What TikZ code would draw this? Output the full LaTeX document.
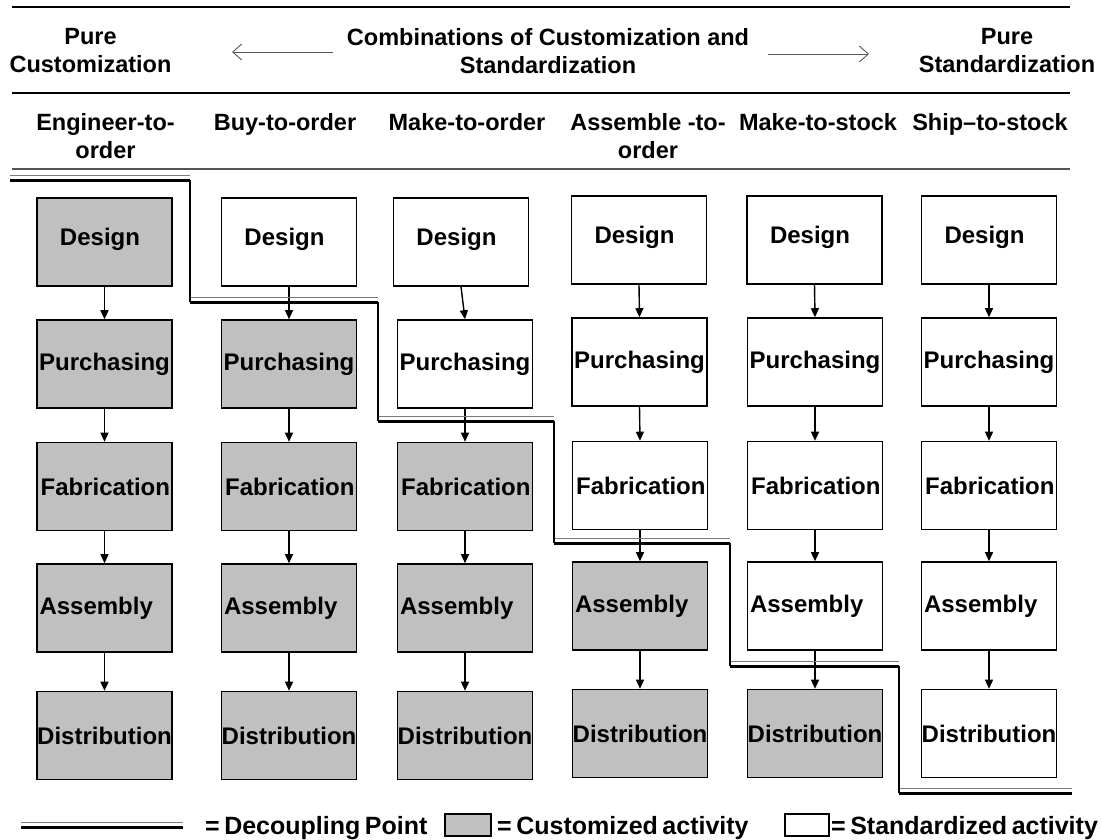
\documentclass[tikz,border=0pt]{standalone}
\usepackage{fontspec}
\setmainfont{Liberation Sans}
\usetikzlibrary{arrows.meta}
\definecolor{cust}{HTML}{C0C0C0}
\definecolor{dpgray}{HTML}{7A7A7A}
\definecolor{rulegray}{HTML}{555555}
\newcommand{\tightsp}{\spaceskip=0.18em\relax}
\begin{document}
\begin{tikzpicture}[x=1pt,y=-1pt,
  every node/.style={font=\fontsize{23.5}{28}\selectfont\bfseries, inner sep=0pt},
  actbox/.style={draw=black, line width=1.6pt, minimum width=135pt, minimum height=88pt,
                 font=\fontsize{24}{28}\selectfont\bfseries},
  custbox/.style={actbox, fill=cust},
  stdbox/.style={actbox, fill=white},
  flow/.style={line width=1.4pt, -{Triangle[length=9pt,width=8pt]}},
  dphigh/.style={draw=dpgray, line width=1.4pt},
  dplow/.style={draw=black, line width=3pt},
  dpvert/.style={draw=black, line width=1.8pt},
  rule/.style={draw=black, line width=1.2pt},
  dirarrow/.style={draw=black!65, line width=0.9pt, -{Straight Barb[length=9pt,width=16pt]}},
  designtext/.style={text height=17pt, text depth=11pt},
  lefttext/.style={text width=130pt, align=left},
  righttext/.style={text width=131pt, align=right},
  legendtext/.style={font=\fontsize{25}{30}\selectfont\bfseries, anchor=base west},
]
\useasboundingbox (0,0) rectangle (1102,839);

% header rules
\draw[rule] (12,7) -- (1070,7);
\draw[rule] (12,93) -- (1070,93);
\draw[rule, draw=rulegray] (12,169) -- (1070,169);

% header texts
\node[align=center, anchor=north] (pc) at (90.5,28) {Pure\\Customization};
\node[align=center, anchor=north] (comb) at (548,28) {Combinations of Customization and\\Standardization};
\node[align=center, anchor=north] (ps) at (1007,28) {Pure\\Standardization};
\coordinate (la1) at (333,52);
\coordinate (la2) at (232,52);
\coordinate (ra1) at (768,54);
\coordinate (ra2) at (869,54);
\draw[dirarrow] (la1) -- (la2);
\draw[dirarrow] (ra1) -- (ra2);

% column headers
\node[align=center, anchor=north] (h1) at (105.5,113) {Engineer-to-\\order};
\node[align=center, anchor=north] (h2) at (285,113) {Buy-to-order};
\node[align=center, anchor=north] (h3) at (467,113) {Make-to-order};
\node[align=center, anchor=north] (h4) at (648,113) {Assemble -to-\\order};
\node[align=center, anchor=north] (h5) at (818,113) {Make-to-stock};
\node[align=center, anchor=north] (h6) at (990,113) {Ship--to-stock};

% column 1
\node[custbox, designtext] (c1r1) at (104.5,242) {Design\hspace*{9pt}};
\node[custbox] (c1r2) at (104.5,364) {Purchasing};
\node[custbox, righttext] (c1r3) at (104.5,486.5) {Fabrication};
\node[custbox, lefttext] (c1r4) at (104.5,608) {Assembly};
\node[custbox] (c1r5) at (104.5,735.5) {Distribution};
% column 2
\node[stdbox, designtext] (c2r1) at (289,242) {Design\hspace*{9pt}};
\node[custbox] (c2r2) at (289,364) {Purchasing};
\node[custbox, righttext] (c2r3) at (289,486.5) {Fabrication};
\node[custbox, lefttext] (c2r4) at (289,608) {Assembly};
\node[custbox] (c2r5) at (289,735.5) {Distribution};
% column 3
\node[stdbox, designtext] (c3r1) at (461,242) {Design\hspace*{9pt}};
\node[stdbox] (c3r2) at (465,364) {Purchasing};
\node[custbox, righttext] (c3r3) at (465,486.5) {Fabrication};
\node[custbox, lefttext] (c3r4) at (465,608) {Assembly};
\node[custbox] (c3r5) at (465,735.5) {Distribution};
% column 4
\node[stdbox, designtext] (c4r1) at (639,240) {Design\hspace*{9pt}};
\node[stdbox] (c4r2) at (639.5,362) {Purchasing};
\node[stdbox, righttext] (c4r3) at (640,485.5) {Fabrication};
\node[custbox, lefttext] (c4r4) at (640,606) {Assembly};
\node[custbox] (c4r5) at (640,733.5) {Distribution};
% column 5
\node[stdbox, designtext] (c5r1) at (814.5,240) {Design\hspace*{9pt}};
\node[stdbox] (c5r2) at (815,362) {Purchasing};
\node[stdbox, righttext] (c5r3) at (815,485.5) {Fabrication};
\node[stdbox, lefttext] (c5r4) at (815,606) {Assembly};
\node[custbox] (c5r5) at (815,733.5) {Distribution};
% column 6
\node[stdbox, designtext] (c6r1) at (989,240) {Design\hspace*{9pt}};
\node[stdbox] (c6r2) at (989,362) {Purchasing};
\node[stdbox, righttext] (c6r3) at (989,485.5) {Fabrication};
\node[stdbox, lefttext] (c6r4) at (989,606) {Assembly};
\node[stdbox] (c6r5) at (989,733.5) {Distribution};

% flow arrows
\foreach \c in {1,...,6}{
  \draw[flow] (c\c r1.south) -- (c\c r2.north);
  \draw[flow] (c\c r2.south) -- (c\c r3.north);
  \draw[flow] (c\c r3.south) -- (c\c r4.north);
  \draw[flow] (c\c r4.south) -- (c\c r5.north);
}

% decoupling point line
\coordinate (d0) at (10,180);
\coordinate (d1) at (190,180);
\coordinate (d2) at (190,302);
\coordinate (d3) at (378,302);
\coordinate (d4) at (378,421);
\coordinate (d5) at (554,421);
\coordinate (d6) at (554,543);
\coordinate (d7) at (730,543);
\coordinate (d8) at (730,666);
\coordinate (d9) at (899,666);
\coordinate (d10) at (899,793);
\coordinate (d11) at (1072,793);
\foreach \a/\b in {d0/d1,d2/d3,d4/d5,d6/d7,d8/d9,d10/d11}{
  \draw[dplow] (\a) -- (\b);
  \draw[dphigh] ([yshift=4.5pt]\a) -- ([yshift=4.5pt]\b);
}
\foreach \a/\b in {d1/d2,d3/d4,d5/d6,d7/d8,d9/d10}{
  \draw[dpvert] (\a) -- (\b);
}

% legend
\coordinate (lg0) at (21,827);
\coordinate (lg1) at (183,827);
\draw[dplow] (lg0) -- (lg1);
\draw[dphigh] ([yshift=4.5pt]lg0) -- ([yshift=4.5pt]lg1);
\node[legendtext] (lgt1) at (205,834) {\tightsp = Decoupling Point};
\node[draw=black, line width=1.6pt, fill=cust, minimum width=46pt, minimum height=22pt] (lgc) at (468,825) {};
\node[legendtext] (lgt2) at (497,834) {\tightsp = Customized activity};
\node[draw=black, line width=1.6pt, fill=white, minimum width=44pt, minimum height=22pt] (lgs) at (807,825) {};
\node[legendtext] (lgt3) at (831,834) {\tightsp = Standardized activity};
\end{tikzpicture}
\end{document}
